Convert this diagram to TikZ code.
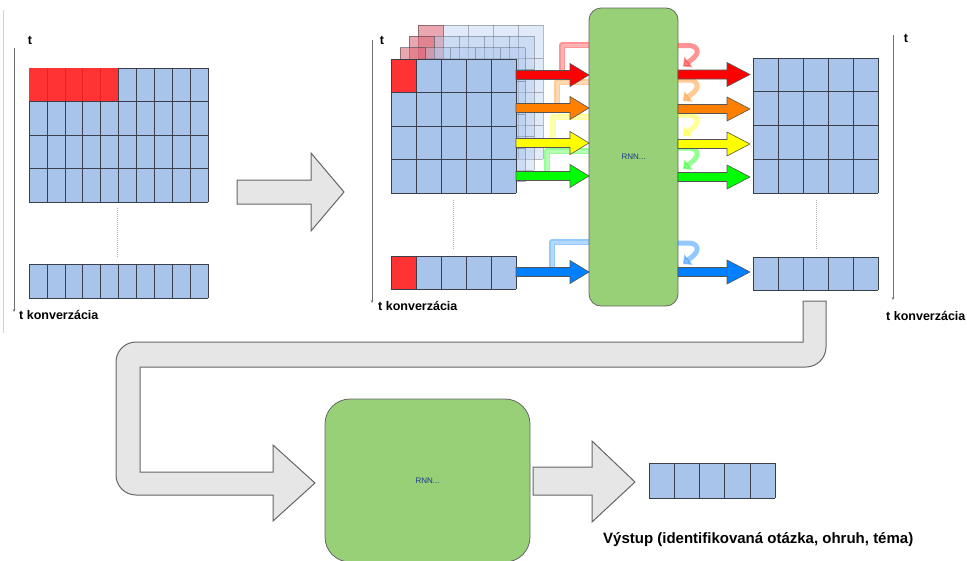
\documentclass[tikz,border=0pt]{standalone}
\usepackage{fontspec}
\setmainfont{Liberation Sans}
\usetikzlibrary{arrows.meta}
\definecolor{cellblue}{HTML}{A9C4EB}
\definecolor{cellred}{HTML}{FF3333}
\definecolor{rnngreen}{HTML}{97D077}
\definecolor{garrow}{HTML}{E6E6E6}
\definecolor{gline}{HTML}{666666}
\definecolor{celline}{HTML}{3A3F4A}
\definecolor{arrowedge}{HTML}{555555}
\definecolor{axiscol}{HTML}{6E6E6E}
\definecolor{cRed}{HTML}{FF0000}
\definecolor{cOrange}{HTML}{FF8000}
\definecolor{cYellow}{HTML}{FFFF00}
\definecolor{cGreen}{HTML}{00FF00}
\definecolor{cBlue}{HTML}{007FFF}
\definecolor{rnntext}{HTML}{1F3A8A}
\tikzset{
  cellline/.style={draw=celline, line width=0.6pt},
  bigarrow/.style={fill=garrow, draw=gline, line width=1pt, line join=miter},
  rnnbox/.style={fill=rnngreen, draw=gline, line width=0.8pt, text=rnntext,
    font=\fontsize{8}{9}\selectfont, inner sep=0pt, outer sep=0pt},
  axisline/.style={draw=axiscol, line width=0.5pt, -{Stealth[length=3pt,width=2.5pt]}},
  lbl/.style={font=\fontsize{12.5}{14}\selectfont\bfseries, inner sep=0pt},
  outlbl/.style={font=\fontsize{15}{17}\selectfont\bfseries, inner sep=0pt},
  dotline/.style={draw=gray!60, line width=0.7pt, dash pattern=on 1pt off 1pt},
  colarr/.style={draw=arrowedge, line width=0.6pt, line join=miter},
}
% grid: x0, y0, cols, rows, cell width, row height
\newcommand\cgrid[6]{%
  \fill[cellblue] (#1,#2) rectangle ++(#3*#5,#4*#6);
  \foreach \k in {0,...,#3}{\draw[cellline] (#1+\k*#5,#2) -- ++(0,#4*#6);}
  \foreach \k in {0,...,#4}{\draw[cellline] (#1,#2+\k*#6) -- ++(#3*#5,0);}
}
% coloured block arrow: x0, head x, tip x, y, colour, half head height
\newcommand\colarrow[6]{%
  \filldraw[colarr, fill=#5] (#1,#4-4.5) -- (#2,#4-4.5) -- (#2,#4-#6) -- (#3,#4)
    -- (#2,#4+#6) -- (#2,#4+4.5) -- (#1,#4+4.5) -- cycle;}
% left feedback loop: x, arrow y, top y, colour
\newcommand\leftloop[4]{%
  \draw[line width=5.5pt, draw=#4, opacity=.42, line join=round] (#1,#2) -- (#1,#3) -- (590,#3);
  \draw[line width=3pt, draw=white, opacity=.3, line join=round] (#1,#2-3) -- (#1,#3) -- (590,#3);}
% right feedback loop: arrow y, colour
\newcommand\rightloop[2]{%
  \draw[line width=5pt, draw=#2, opacity=.42, -{Triangle[length=7pt,width=13pt]}]
    (678,#1-29) -- (688,#1-29) .. controls (698,#1-29) and (700,#1-22) .. (693,#1-16) -- (683,#1-8);}
\begin{document}
\begin{tikzpicture}[x=1pt,y=-1pt]
\useasboundingbox (0,0) rectangle (967,560);

% thin page edge line
\draw[draw=gray!35, line width=0.8pt] (3,10) -- (3,333);

% ---------- left block ----------
\draw[axisline] (14,48) -- (14,312);
\node[lbl] (tL) at (30,40) {t};
\node[lbl, anchor=west] (tkL) at (19,315) {t konverzácia};
\cgrid{29}{68}{10}{4}{17.9}{33.5}
\fill[cellred] (29,68) rectangle (118.5,101.5);
\foreach \k in {1,...,4}{\draw[draw=red!75!black, opacity=.35, line width=0.6pt] (29+\k*17.9,68) -- (29+\k*17.9,101.5);}
\draw[cellline] (29,101.5) -- (208,101.5);
\draw[cellline] (118.5,68) -- (118.5,101.5);
\draw[cellline] (118.5,68) -- (208,68) -- (208,101.5);
\coordinate (dL1) at (117,208); \coordinate (dL2) at (117,258);
\draw[dotline] (dL1) -- (dL2);
\cgrid{29}{264}{10}{1}{17.9}{34}

% big arrow 1
\filldraw[bigarrow] (237,180) -- (311,180) -- (311,153) -- (344,192) -- (311,231) -- (311,204) -- (237,204) -- cycle;

% ---------- middle block ----------
\draw[axisline] (372,40) -- (372,303);
\node[lbl] (tM) at (382,40) {t};
\node[lbl, anchor=west] (tkM) at (378,306) {t konverzácia};
\foreach \dx/\dy in {27/-34, 18/-23, 9/-11.5}{
  \begin{scope}[opacity=.36]
    \cgrid{391+\dx}{59+\dy}{5}{4}{25}{33.5}
    \filldraw[cellline, fill=cellred] (391+\dx,59+\dy) rectangle ++(25,33.5);
  \end{scope}
}
% left feedback loops
\leftloop{562}{75}{45}{cRed}
\leftloop{557}{108}{82}{cOrange}
\leftloop{553}{143}{117}{cYellow}
\leftloop{547}{176}{151}{cGreen}
\leftloop{552}{272}{242}{cBlue}

\cgrid{391}{59}{5}{4}{25}{33.5}
\filldraw[cellline, fill=cellred] (391,59) rectangle ++(25,33.5);
\coordinate (dM1) at (453,200); \coordinate (dM2) at (453,250);
\draw[dotline] (dM1) -- (dM2);
\cgrid{391}{256}{5}{1}{25}{33}
\filldraw[cellline, fill=cellred] (391,256) rectangle ++(25,33);

% RNN box
\node[rnnbox, minimum width=89pt, minimum height=298pt, rounded corners=12pt] (rnn1) at (633.5,157) {RNN...};

% input arrows
\colarrow{516}{570}{589}{75}{cRed}{11.5}
\colarrow{516}{570}{589}{108}{cOrange}{11.5}
\colarrow{516}{570}{589}{143}{cYellow}{11.5}
\colarrow{516}{570}{589}{176}{cGreen}{11.5}
\colarrow{516}{570}{589}{272}{cBlue}{11.5}

% right feedback loops
\rightloop{74.5}{cRed}
\rightloop{109}{cOrange}
\rightloop{144}{cYellow}
\rightloop{177}{cGreen}
\rightloop{272}{cBlue}

% output arrows
\colarrow{678}{727}{750}{74.5}{cRed}{12}
\colarrow{678}{727}{750}{109}{cOrange}{12}
\colarrow{678}{727}{750}{144}{cYellow}{12}
\colarrow{678}{727}{750}{177}{cGreen}{12}
\colarrow{678}{727}{750}{272}{cBlue}{12}

% ---------- right block ----------
\cgrid{753}{58}{5}{4}{25}{33.75}
\coordinate (dR1) at (816,200); \coordinate (dR2) at (816,250);
\draw[dotline] (dR1) -- (dR2);
\cgrid{753}{257}{5}{1}{25}{33}
\draw[axisline] (893,35) -- (893,300);
\node[lbl] (tR) at (906,38) {t};
\node[lbl, anchor=west] (tkR) at (886,316) {t konverzácia};

% ---------- pipe arrow ----------
\filldraw[bigarrow] (803,301) -- (826,301) -- (826,347)
  .. controls (826,358.05) and (817.05,367) .. (806,367)
  -- (140,367) -- (140,472) -- (273,472) -- (273,445) -- (315,483) -- (273,521) -- (273,495)
  -- (136,495) .. controls (124.95,495) and (116,486.05) .. (116,475)
  -- (116,362) .. controls (116,350.95) and (124.95,342) .. (136,342)
  -- (803,342) -- cycle;

% bottom RNN
\node[rnnbox, minimum width=205pt, minimum height=163pt, rounded corners=25pt] (rnn2) at (427.5,480.5) {RNN...};

% bottom arrow
\filldraw[bigarrow] (533,467) -- (592,467) -- (592,441) -- (635,482) -- (592,522) -- (592,495) -- (533,495) -- cycle;

% output row
\cgrid{649}{463}{5}{1}{25.2}{35}
\node[outlbl, anchor=west] (out) at (603,540) {Výstup (identifikovaná otázka, ohruh, téma)};
\end{tikzpicture}
\end{document}
